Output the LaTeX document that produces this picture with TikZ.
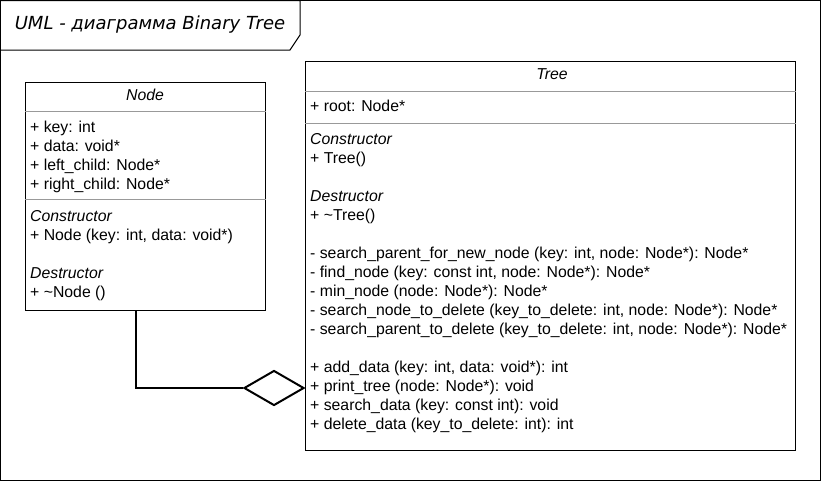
\documentclass[tikz,border=0pt]{standalone}
\usepackage{fontspec}
\setmainfont{Liberation Sans}
\newfontfamily\titlefont{DejaVu Sans}
\usetikzlibrary{positioning,shapes.geometric}

\tikzset{
  umlbox/.style={draw,line width=1pt,anchor=north west,inner sep=0pt},
  sepline/.style={draw=black!40,line width=1pt},
  umltext/.style={anchor=base west,inner sep=0pt,font=\fontsize{15.8}{18}\selectfont},
  umltitle/.style={inner sep=0pt,font=\fontsize{15.8}{18}\selectfont\itshape},
  aggr/.style={draw,diamond,line width=2pt,inner sep=0pt,aspect=1.7,
               minimum width=60pt,minimum height=35pt,anchor=east},
}

\begin{document}
\begin{tikzpicture}[x=1pt,y=-1pt]
  \useasboundingbox (0,0) rectangle (821,482);
  % helper grid: comment for final drawing
  % \draw[help lines,step=10] (0,0) grid (821,482);

  % frame and title
  \draw[line width=1pt] (0.5,0.5) rectangle (820.5,480.5);
  \draw[line width=1pt] (0.5,0.5) -- (300,0.5) -- (300,35) -- (290,50) -- (0.5,50);
  \node[inner sep=0pt,font=\titlefont\fontsize{18}{21}\selectfont\itshape] (title) at (150,25)
       {UML - диаграмма Binary Tree};

  % class Node
  \node[umlbox,minimum width=240pt,minimum height=228pt] (nodecls) at (25,82) {};
  \node[umltitle] (nodename) at (145,95) {Node};
  \draw[sepline] ([yshift=-29pt]nodecls.north west) -- ([yshift=-29pt]nodecls.north east);
  \draw[sepline] ([yshift=-117pt]nodecls.north west) -- ([yshift=-117pt]nodecls.north east);
  \foreach \txt [count=\i from 0] in {+ key: int, + data: void*,
      + left\_child: Node*, + right\_child: Node*}
    \node[umltext] at (30,132+19*\i) {\txt};
  \foreach \txt [count=\i from 0] in {\itshape Constructor, {+ Node (key: int, data: void*)}, {},
      \itshape Destructor, + \textasciitilde Node ()}
    \node[umltext] at (30,221+19*\i) {\txt};

  % class Tree
  \node[umlbox,minimum width=490pt,minimum height=389pt] (treecls) at (305,61) {};
  \node[umltitle] (treename) at (552,74) {Tree};
  \draw[sepline] ([yshift=-30pt]treecls.north west) -- ([yshift=-30pt]treecls.north east);
  \draw[sepline] ([yshift=-62pt]treecls.north west) -- ([yshift=-62pt]treecls.north east);
  \node[umltext] at (310,111) {+ root: Node*};
  \foreach \txt [count=\i from 0] in {\itshape Constructor, + Tree(), {},
      \itshape Destructor, + \textasciitilde Tree(), {},
      {- search\_parent\_for\_new\_node (key: int, node: Node*): Node*},
      {- find\_node (key: const int, node: Node*): Node*},
      - min\_node (node: Node*): Node*,
      {- search\_node\_to\_delete (key\_to\_delete: int, node: Node*): Node*},
      {- search\_parent\_to\_delete (key\_to\_delete: int, node: Node*): Node*}, {},
      {+ add\_data (key: int, data: void*): int},
      + print\_tree (node: Node*): void,
      + search\_data (key: const int): void,
      + delete\_data (key\_to\_delete: int): int}
    \node[umltext] at (310,144+19*\i) {\txt};

  % aggregation
  \node[aggr] (agg) at (treecls.west |- 0,388) {};
  \draw[line width=2pt] ([xshift=-10pt]nodecls.south) |- (agg.west);

\end{tikzpicture}
\end{document}
